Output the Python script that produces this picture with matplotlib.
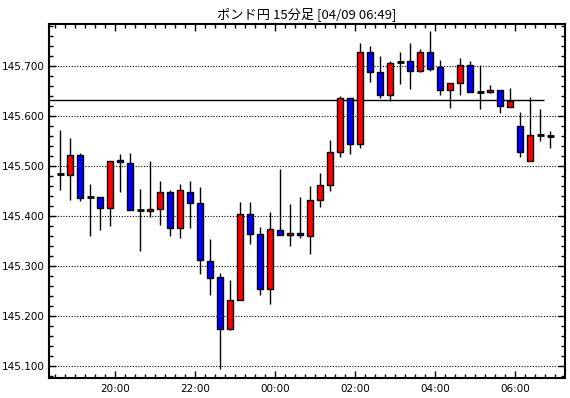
import numpy as np
import matplotlib
matplotlib.use("Agg")
import matplotlib.pyplot as plt
from matplotlib.ticker import MultipleLocator, FixedLocator, FormatStrFormatter

# 15-minute candles, GBP/JPY, 18:30 -> 06:45
opens = [145.484, 145.483, 145.522, 145.439, 145.439, 145.417, 145.513, 145.507, 145.413, 145.411,
         145.415, 145.449, 145.377, 145.449, 145.427, 145.311, 145.279, 145.175, 145.233, 145.405,
         145.365, 145.255, 145.373, 145.363, 145.367, 145.361, 145.433, 145.463, 145.529, 145.637,
         145.545, 145.729, 145.689, 145.643, 145.709, 145.710, 145.690, 145.728, 145.698, 145.652,
         145.666, 145.703, 145.649, 145.649, 145.653, 145.619, 145.581, 145.511, 145.562, 145.561]
highs = [145.572, 145.556, 145.527, 145.464, 145.439, 145.511, 145.524, 145.527, 145.455, 145.510,
         145.470, 145.453, 145.464, 145.470, 145.458, 145.355, 145.287, 145.272, 145.428, 145.429,
         145.379, 145.408, 145.495, 145.424, 145.438, 145.460, 145.487, 145.552, 145.640, 145.637,
         145.747, 145.740, 145.721, 145.711, 145.729, 145.747, 145.735, 145.771, 145.713, 145.666,
         145.717, 145.711, 145.702, 145.662, 145.653, 145.657, 145.609, 145.639, 145.615, 145.571]
lows = [145.453, 145.433, 145.431, 145.361, 145.373, 145.381, 145.449, 145.412, 145.331, 145.399,
        145.383, 145.361, 145.357, 145.377, 145.285, 145.243, 145.095, 145.172, 145.233, 145.345,
        145.243, 145.225, 145.363, 145.341, 145.357, 145.325, 145.419, 145.451, 145.519, 145.525,
        145.537, 145.669, 145.637, 145.631, 145.665, 145.654, 145.688, 145.690, 145.643, 145.616,
        145.643, 145.649, 145.615, 145.647, 145.607, 145.619, 145.519, 145.511, 145.551, 145.537]
closes = [145.484, 145.522, 145.437, 145.439, 145.417, 145.511, 145.508, 145.412, 145.413, 145.415,
          145.449, 145.377, 145.453, 145.427, 145.313, 145.277, 145.175, 145.233, 145.405, 145.365,
          145.255, 145.375, 145.363, 145.367, 145.363, 145.433, 145.463, 145.529, 145.637, 145.545,
          145.729, 145.689, 145.643, 145.707, 145.709, 145.690, 145.728, 145.695, 145.652, 145.666,
          145.702, 145.649, 145.649, 145.653, 145.621, 145.631, 145.529, 145.563, 145.562, 145.561]
ref_level = 145.632
time_labels = ["20:00", "22:00", "00:00", "02:00", "04:00", "06:00"]
title = "ポンド円 15分足 [04/09 06:49]"

fig = plt.figure(figsize=(5.70, 3.98), dpi=100)
ax = fig.add_axes([49 / 570, 20 / 398, 516 / 570, 354 / 398])

x = np.arange(len(opens))
o = np.array(opens)
c = np.array(closes)

# wicks
ax.vlines(x, lows, highs, color="black", lw=1, zorder=2)

# bodies
up = c > o
down = c < o
doji = c == o
ax.bar(x[up], (c - o)[up], bottom=o[up], width=0.62, color="#ff0000",
       edgecolor="black", linewidth=1, zorder=3)
ax.bar(x[down], (c - o)[down], bottom=o[down], width=0.62, color="#0000ff",
       edgecolor="black", linewidth=1, zorder=3)
ax.hlines(c[doji], x[doji] - 0.33, x[doji] + 0.33, color="black", lw=2, zorder=3)

# reference line
ax.hlines(ref_level, -1.2, 48.4, color="black", lw=1, zorder=2)

ax.set_xlim(-1.13, 50.47)
ax.set_ylim(145.076, 145.785)

ax.xaxis.set_major_locator(FixedLocator([5.5 + 8 * k for k in range(len(time_labels))]))
ax.set_xticklabels(time_labels)
ax.xaxis.set_minor_locator(FixedLocator(np.arange(-0.5, 50.5, 1.0)))
ax.yaxis.set_major_locator(MultipleLocator(0.1))
ax.yaxis.set_minor_locator(MultipleLocator(0.02))
ax.yaxis.set_major_formatter(FormatStrFormatter("%.3f"))

ax.tick_params(which="both", direction="in", top=True, right=True, labelsize=7.5,
               color="black", width=1)
ax.tick_params(which="major", length=5, pad=3)
ax.tick_params(axis="x", which="major", pad=4)
ax.tick_params(which="minor", length=3)

ax.yaxis.grid(True, which="major", color="black", lw=0.8, linestyle=(0, (1, 1.5)))
ax.set_axisbelow(True)
for s in ax.spines.values():
    s.set_linewidth(1.5)

ax.set_title(title, fontsize=9.5, family=["Noto Sans CJK JP", "DejaVu Sans"], pad=4)

fig.savefig("out.png", dpi=100)
